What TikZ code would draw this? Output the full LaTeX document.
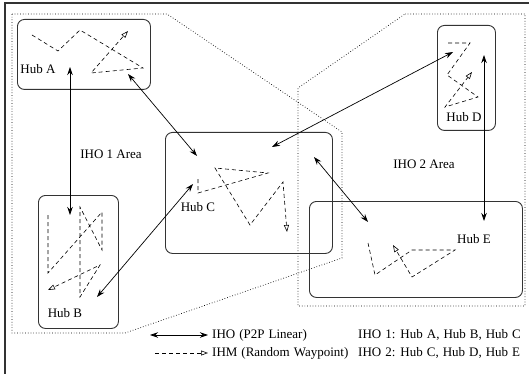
\documentclass[tikz,border=0pt]{standalone}
\usepackage{fontspec}
\setmainfont{Liberation Serif}
\newcommand{\legfont}{\fontsize{13}{15}\selectfont\spaceskip=4pt plus 1pt\relax}
\usetikzlibrary{arrows.meta}
\begin{document}
\begin{tikzpicture}[x=1pt,y=-1pt,
  hub/.style={draw=black!80, line width=0.9pt, rounded corners=7pt, inner sep=0pt, anchor=north west},
  lbl/.style={font=\fontsize{13}{15}\selectfont, inner sep=0pt},
  leg/.style={font=\legfont, inner sep=0pt, anchor=west},
  iho/.style={line width=0.7pt, {Stealth[length=8pt,width=5.5pt]}-{Stealth[length=8pt,width=5.5pt]}},
  ihm/.style={line width=0.6pt, dash pattern=on 4pt off 3pt, -{Triangle[open,length=7pt,width=5pt]}},
  area/.style={line width=0.7pt, dotted}]
\useasboundingbox (0,0) rectangle (529,374);
% frame
\draw[line width=1.2pt, black!80] (5,374) -- (5,3) -- (529,3);
% areas
\draw[area] (12,14) -- (167,14) -- (342,132) -- (342,258) -- (125,333) -- (12,333) -- cycle;
\draw[area] (405,14) -- (525,14) -- (525,306) -- (298,306) -- (298,88) -- cycle;
% hubs
\node[hub, minimum width=133pt, minimum height=70pt] (hubA) at (17,19) {};
\node[hub, minimum width=80pt, minimum height=133pt] (hubB) at (38,195) {};
\node[hub, minimum width=167pt, minimum height=121pt] (hubC) at (165,132) {};
\node[hub, minimum width=58pt, minimum height=105pt] (hubD) at (437,25) {};
\node[hub, minimum width=213pt, minimum height=96pt] (hubE) at (309,201) {};
% labels
\node[lbl] (la) at (38,69) {Hub A};
\node[lbl] (lb) at (65,313) {Hub B};
\node[lbl] (lc) at (198,207) {Hub C};
\node[lbl] (ld) at (464,117) {Hub D};
\node[lbl] (le) at (474,239) {Hub E};
\node[lbl] (a1) at (111,154) {IHO 1 Area};
\node[lbl] (a2) at (424,164) {IHO 2 Area};
% IHO connectors
\coordinate (ab1) at (70,67); \coordinate (ab2) at (70,215);
\coordinate (ac1) at (128,74); \coordinate (ac2) at (197,156);
\coordinate (bc1) at (97,297); \coordinate (bc2) at (193,184);
\coordinate (cd1) at (272,147); \coordinate (cd2) at (453,52);
\coordinate (ce1) at (314,157); \coordinate (ce2) at (368,222);
\coordinate (de1) at (484,55); \coordinate (de2) at (484,221);
\draw[iho] (ab1) -- (ab2);
\draw[iho] (ac1) -- (ac2);
\draw[iho] (bc1) -- (bc2);
\draw[iho] (cd1) -- (cd2);
\draw[iho] (ce1) -- (ce2);
\draw[iho] (de1) -- (de2);
% IHM random waypoint paths
\draw[ihm] (32,35) -- (58,51) -- (80,30) -- (143,68) -- (91,73) -- (128,31);
\draw[ihm] (48,215) -- (48,273) -- (102,212) -- (102,250) -- (80,207) -- (80,297) -- (100,265) -- (48,290);
\draw[ihm] (198,179) -- (198,193) -- (268,173) -- (215,168) -- (250,225) -- (283,182) -- (287,232);
\draw[ihm] (448,43) -- (470,43) -- (447,75) -- (478,97) -- (445,107) -- (472,72);
\draw[ihm] (368,243) -- (375,275) -- (412,250) -- (455,250) -- (412,277) -- (393,245);
% legend
\coordinate (l1a) at (150,335); \coordinate (l1b) at (208,335);
\coordinate (l2a) at (155,353); \coordinate (l2b) at (208,353);
\draw[iho] (l1a) -- (l1b);
\draw[ihm] (l2a) -- (l2b);
\node[leg] (t1) at (212,335) {IHO (P2P Linear)};
\node[leg] (t2) at (212,353) {IHM (Random Waypoint)};
\node[leg] (t3) at (358,335) {IHO 1: Hub A, Hub B, Hub C};
\node[leg] (t4) at (358,353) {IHO 2: Hub C, Hub D, Hub E};
\end{tikzpicture}
\end{document}
